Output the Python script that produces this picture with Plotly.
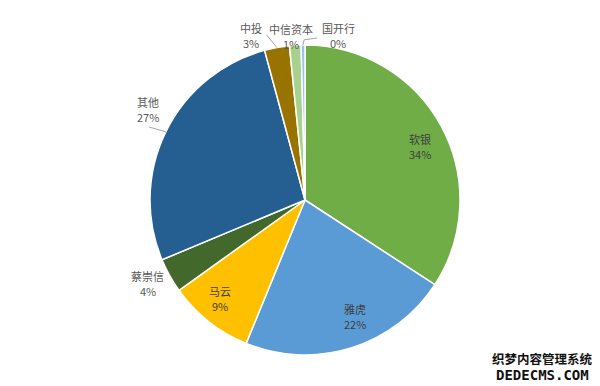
import math
import plotly.graph_objects as go

# ---- data ----
labels = ["软银", "雅虎", "马云", "蔡崇信", "其他", "中投", "中信资本", "国开行"]
values = [34.2, 22.0, 8.9, 3.6, 27.1, 2.6, 1.2, 0.4]

# ---- style ----
colors = ["#70AD47", "#5B9BD5", "#FFC000", "#43682B", "#255E91", "#997300", "#A9D18E", "#9DC3E6"]
label_r = [0.82, 0.82, 0.84, 1.15, 1.17, 1.12, 1.06, 1.08]      # label radius as fraction of pie radius
label_dtheta = [3.7, -5.8, 2.3, 1.1, 4.0, -7.8, -1.3, 12.1]      # angular nudge (deg)
text_colors = ["#404040", "#404040", "#404040", "#595959", "#595959", "#595959", "#595959", "#595959"]
# leader: None or (dx, dy) pixel offset from label centre for line start, elbow flag
leaders = [None, None, None, None, (1, 18, False), (16, 0, False), None, (-21, 2, True)]
LINE_GAP = 7.5  # half distance between name line and percent line (px)

W, H = 600, 386
ML, MR, MT, MB = 10, 0, 45, 31
PW, PH = W - ML - MR, H - MT - MB
R = min(PW, PH) / 2
CX, CY = ML + PW / 2, MT + PH / 2


def px2paper(px, py):
    return (px - ML) / PW, 1 - (py - MT) / PH


def polar(theta_deg, f):
    t = math.radians(theta_deg)
    return CX + R * f * math.sin(t), CY - R * f * math.cos(t)


fig = go.Figure(go.Pie(
    labels=labels, values=values, sort=False, direction="clockwise", rotation=0,
    marker=dict(colors=colors, line=dict(color="white", width=1.5)),
    textinfo="none", hoverinfo="label+percent", showlegend=False,
))

total = sum(values)
annotations = []
shapes = []
cum = 0.0
for i, (lab, v) in enumerate(zip(labels, values)):
    mid = (cum + v / 2) / total * 360
    cum += v
    lx, ly = polar(mid + label_dtheta[i], label_r[i])
    pct = f"{round(v / total * 100)}%"
    for txt, oy in ((lab, -LINE_GAP), (pct, LINE_GAP)):
        x, y = px2paper(lx, ly + oy)
        annotations.append(dict(
            x=x, y=y, xref="paper", yref="paper", showarrow=False,
            text=txt, align="center",
            font=dict(family="Noto Sans CJK SC", size=11, color=text_colors[i]),
            xanchor="center", yanchor="middle",
        ))
    if leaders[i] is not None:
        dx, dy, elbow = leaders[i]
        ex, ey = polar(mid, 1.0)
        sx, sy = lx + dx, ly + dy
        pts = [(sx, sy)]
        if elbow:
            pts.append((ex + 1, sy + 2))
        pts.append((ex, ey))
        ppts = [px2paper(a, b) for a, b in pts]
        path = "M " + " L ".join(f"{a:.5f},{b:.5f}" for a, b in ppts)
        shapes.append(dict(type="path", path=path, xref="paper", yref="paper",
                           line=dict(color="#A6A6A6", width=1)))

# watermark
wx, wy = px2paper(542, 358)
annotations.append(dict(x=wx, y=wy, xref="paper", yref="paper", showarrow=False,
                        text="<b>织梦内容管理系统</b>", xanchor="center", yanchor="middle",
                        font=dict(family="Noto Sans CJK SC", size=12.5, color="#111111")))
wx, wy = px2paper(542, 375)
annotations.append(dict(x=wx, y=wy, xref="paper", yref="paper", showarrow=False,
                        text="<b>DEDECMS.COM</b>", xanchor="center", yanchor="middle",
                        font=dict(family="DejaVu Sans Mono", size=14, color="#111111")))

fig.update_layout(
    width=W, height=H,
    margin=dict(l=ML, r=MR, t=MT, b=MB),
    paper_bgcolor="white", plot_bgcolor="white",
    annotations=annotations, shapes=shapes,
)

fig.write_html("out.html")
